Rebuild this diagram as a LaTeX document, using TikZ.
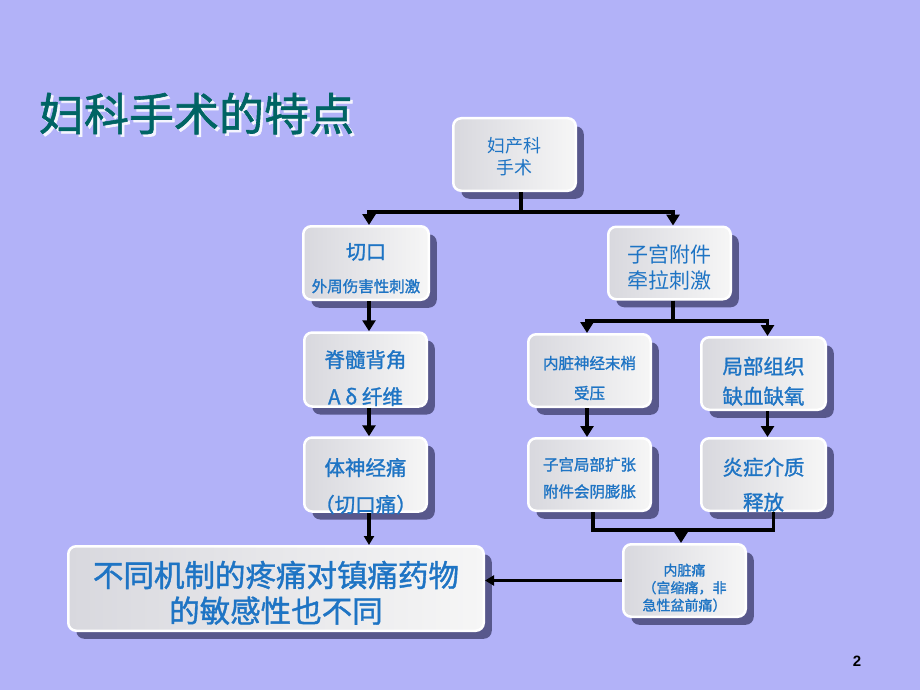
\documentclass[tikz,border=0pt]{standalone}
\usepackage{fontspec}
\setmainfont{Noto Sans CJK SC}
\newfontfamily\medf{Noto Sans CJK SC}[FakeBold=1.3]
\newfontfamily\numfont{Liberation Sans}
\usetikzlibrary{arrows.meta,shadows}
\definecolor{bg}{RGB}{178,178,248}
\definecolor{shadowc}{RGB}{88,88,140}
\definecolor{txt}{RGB}{30,116,196}
\definecolor{titlec}{RGB}{0,100,100}
\definecolor{boxL}{RGB}{216,216,222}
\definecolor{boxR}{RGB}{246,246,246}
\newcommand\shiftdn[2]{\raisebox{-#1}[\height][\depth]{\begin{tabular}{@{}c@{}}#2\end{tabular}}}
\tikzset{
  box/.style={rectangle, rounded corners=8pt, draw=white, line width=2.5pt,
    left color=boxL, right color=boxR,
    drop shadow={shadow xshift=8pt, shadow yshift=-8pt, fill=shadowc, opacity=1},
    text=txt, inner sep=0pt, minimum width=122.5pt, minimum height=72.5pt},
  conn/.style={line width=3.5pt, draw=black},
  arr/.style={conn, -{Triangle[width=13pt,length=11pt]}},
  arrs/.style={conn, -{Triangle[width=10pt,length=9pt]}},
}
\begin{document}
\begin{tikzpicture}[x=1pt,y=-1pt]
\fill[bg] (0,0) rectangle (920,690);
\useasboundingbox (0,0) rectangle (920,690);

% title (light shadow + text)
\node[font=\fontsize{45}{50}\medf, text=white!85!bg] (titlesh) at (199,116) {妇科手术的特点};
\node[font=\fontsize{45}{50}\medf, text=titlec] (title) at (196.5,113.5) {妇科手术的特点};

% boxes
\node[box, font=\fontsize{18}{22}\selectfont] (top) at (514.5,154.5) {\shiftdn{4.5pt}{妇产科\\手术}};
\node[box, minimum width=125.5pt, minimum height=73.5pt, font=\fontsize{20}{33}\medf] (qk) at (366,263)
  {\shiftdn{6pt}{切口\\{\fontsize{15.5}{33}\selectfont 外周伤害性刺激}}};
\node[box, font=\fontsize{21}{25}\selectfont] (zg) at (669.5,263) {\shiftdn{7.5pt}{子宫附件\\牵拉刺激}};
\node[box, font=\fontsize{20.5}{37}\medf] (jsb) at (365.5,369.5) {\shiftdn{9pt}{脊髓背角\\A δ 纤维}};
\node[box, font=\fontsize{20.5}{37}\medf] (tsj) at (365.5,474.5) {\shiftdn{12pt}{体神经痛\\（切口痛）}};
\node[box, font=\fontsize{15.5}{30}\medf] (nz) at (589.5,370.5) {\shiftdn{7.5pt}{内脏神经末梢\\受压}};
\node[box, minimum width=124.5pt, font=\fontsize{20.5}{30}\medf] (jb) at (763.5,373.5) {\shiftdn{9.5pt}{局部组织\\缺血缺氧}};
\node[box, font=\fontsize{15.5}{27}\medf] (zgj) at (589.5,474.5) {\shiftdn{4pt}{子宫局部扩张\\附件会阴膨胀}};
\node[box, minimum width=124.5pt, font=\fontsize{20.5}{35}\medf] (yz) at (763.5,474.5) {\shiftdn{11pt}{炎症介质\\释放}};
\node[box, font=\fontsize{14}{17.5}\medf] (nzt) at (684.5,580.5) {\shiftdn{9pt}{内脏痛\\（宫缩痛，非\\急性盆前痛）}};
\node[box, minimum width=415.5pt, minimum height=84.5pt, font=\fontsize{30.5}{33}\medf] (bt) at (276,588.5)
  {\shiftdn{8pt}{不同机制的疼痛对镇痛药物\\的敏感性也不同}};

% page number
\node[font=\numfont\bfseries\fontsize{15}{18}\selectfont] (pg) at (857,661) {2};

% connector coordinates
\coordinate (j1) at (521,212);
\coordinate (j2) at (673,321);
\coordinate (j3) at (681,530);
\coordinate (cL) at (369,0);
\coordinate (cM) at (587,0);
\coordinate (cR) at (767.5,0);
\coordinate (cB) at (593,0);
\coordinate (cC) at (773.5,0);

% connectors
\draw[conn] (top.south -| j1) -- (j1);
\draw[arr] (j1) -| (qk.north -| cL);
\draw[arr] (j1) -| (zg.north -| j2);
\draw[conn] (zg.south -| j2) -- (j2);
\draw[arr] (j2) -| (nz.north -| cM);
\draw[arr] (j2) -| (jb.north -| cR);
\draw[arr] (qk.south -| cL) -- (jsb.north -| cL);
\draw[arr] (jsb.south -| cL) -- (tsj.north -| cL);
\draw[arrs] (tsj.south -| cL) -- (bt.north -| cL);
\draw[arr] (nz.south -| cM) -- (zgj.north -| cM);
\draw[arr] (jb.south -| cR) -- (yz.north -| cR);
\draw[conn] (zgj.south -| cB) |- (j3) -| (yz.south -| cC);
\draw[arr] (j3) -- (nzt.north -| j3);
\draw[arrs] (nzt.west) -- (bt.east |- nzt.west);
\end{tikzpicture}
\end{document}
